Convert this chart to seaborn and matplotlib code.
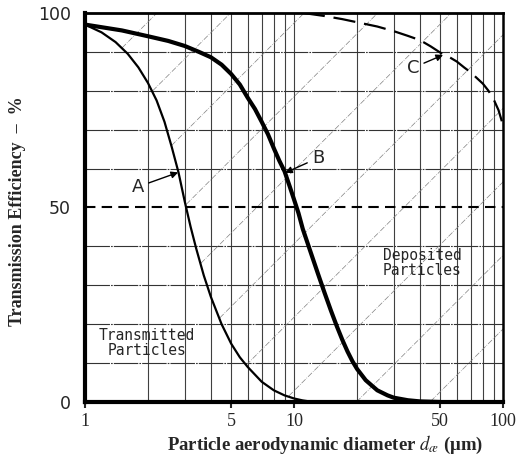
import numpy as np
import pandas as pd
import seaborn as sns
import matplotlib.pyplot as plt
from matplotlib.ticker import NullLocator

# --- values ---
# curve A (thin solid)
a_size = [1.0, 1.2, 1.4, 1.6, 1.8, 2.0, 2.2, 2.4, 2.6, 2.8, 3.0, 3.2, 3.4,
          3.7, 4.0, 4.5, 5.0, 5.5, 6.0, 7.0, 8.0, 9.0, 10.0, 11.0, 12.0, 13.0]
a_eff = [97, 95, 92.5, 89.5, 86, 82, 77.5, 72, 65.5, 59, 51.5, 45, 39.5,
         32.5, 27, 20, 15, 11.5, 9, 5.2, 3, 1.7, 0.9, 0.4, 0.1, 0]

# curve B (thick solid)
b_size = [1, 1.5, 2, 2.5, 3, 3.5, 4, 4.5, 5, 5.5, 6, 6.5, 7, 7.5, 8, 8.5, 9,
          9.5, 10, 10.5, 11, 12, 13, 14, 15, 16, 17, 18, 19, 20, 22, 25, 28,
          30, 35, 40, 50]
b_eff = [97, 95.5, 94, 92.8, 91.5, 90, 88.6, 86.7, 84.3, 81.6, 78.2, 75.3, 72,
         68.8, 65.2, 62, 59.3, 55.6, 52, 48.5, 44.5, 38.5, 33, 28, 23.5, 19.5,
         16, 13, 10.5, 8.5, 5.6, 3, 1.7, 1.1, 0.45, 0.15, 0]

# curve C (dashed)
c_size = [11, 14, 17, 20, 25, 30, 35, 40, 45, 50, 55, 60, 65, 70, 75, 80,
          85, 90, 95, 100]
c_eff = [100, 99.2, 98.4, 97.6, 96.5, 95.3, 94.1, 93, 91.4, 89.8, 88.7, 87.5,
         86, 84.7, 83.2, 81.8, 80, 77.8, 75, 71]

x_ticks = [1, 5, 10, 50, 100]
y_ticks = [0, 50, 100]
grid_x = [2, 3, 4, 5, 6, 7, 8, 9, 10, 20, 30, 40, 50, 60, 70, 80, 90]
grid_y = [10, 20, 30, 40, 60, 70, 80, 90]

# background hatch lines of the chart paper (value at d=1, slope per decade)
diag_start = [81.5, 62.6, 43.7, 24.8, 5.9, -13.0, -31.9, -50.8, -69.7, -88.6, -107.5]
diag_slope = 53.7

sns.set_style("white")
plt.rcParams["font.family"] = ["DejaVu Sans"]
plt.rcParams["mathtext.fontset"] = "stix"

fig = plt.figure(figsize=(5.28, 4.61), dpi=100)
ax = fig.add_axes([0.161, 0.128, 0.792, 0.844])
ax.set_xscale("log")
ax.set_xlim(1, 100)
ax.set_ylim(0, 100)

# chart paper grid
for gx in grid_x:
    ax.axvline(gx, color="0.25", lw=0.8, zorder=1)
for gy in grid_y:
    ax.axhline(gy, color="0.2", lw=0.8, ls=(0, (22, 1, 1.5, 1)), zorder=1)
ax.axhline(50, color="black", lw=1.5, ls=(0, (5, 3)), zorder=2)

# hatch lines only to the right of curve A
xs = np.logspace(0, 2, 600)
a_on_xs = np.interp(np.log10(xs), np.log10(a_size), a_eff, right=0)
for d0 in diag_start:
    yy = d0 + diag_slope * np.log10(xs)
    yy = np.where(yy >= a_on_xs, yy, np.nan)
    ax.plot(xs, yy, color="0.5", lw=0.5, ls=(0, (8, 2, 1, 2)), zorder=1)

# curves
df_a = pd.DataFrame({"size": a_size, "eff": a_eff})
df_b = pd.DataFrame({"size": b_size, "eff": b_eff})
df_c = pd.DataFrame({"size": c_size, "eff": c_eff})
sns.lineplot(data=df_a, x="size", y="eff", ax=ax, color="black", lw=1.6, zorder=3)
sns.lineplot(data=df_b, x="size", y="eff", ax=ax, color="black", lw=3.0, zorder=3)
sns.lineplot(data=df_c, x="size", y="eff", ax=ax, color="black", lw=1.6,
             ls=(0, (10, 4)), zorder=3)

# labels with arrows
arrow = dict(arrowstyle="-|>", color="black", lw=1.0, mutation_scale=10,
             shrinkA=1, shrinkB=0)
ax.annotate("A", xy=(2.79, 59.0), xytext=(1.79, 55.3), fontsize=13,
            ha="center", va="center", arrowprops=arrow, zorder=4)
ax.annotate("B", xy=(9.06, 58.9), xytext=(13.0, 62.7), fontsize=13,
            ha="center", va="center", arrowprops=arrow, zorder=4)
ax.annotate("C", xy=(51.6, 89.2), xytext=(37.1, 85.9), fontsize=13,
            ha="center", va="center", arrowprops=arrow, zorder=4)

ax.text(40.9, 35.7, "Deposited\nParticles", fontsize=10.5, family="DejaVu Sans Mono",
        ha="center", va="center", linespacing=1.0, zorder=4)
ax.text(1.98, 15.2, "Transmitted\nParticles", fontsize=10.5, family="DejaVu Sans Mono",
        ha="center", va="center", linespacing=1.0, zorder=4)

# axes styling
for side, w in [("left", 3.0), ("bottom", 3.0), ("top", 2.0), ("right", 1.8)]:
    ax.spines[side].set_visible(True)
    ax.spines[side].set_color("black")
    ax.spines[side].set_linewidth(w)

ax.xaxis.set_minor_locator(NullLocator())
ax.set_xticks(x_ticks)
ax.set_xticklabels([str(t) for t in x_ticks], family="Liberation Serif", fontsize=13)
ax.set_yticks(y_ticks)
ax.set_yticklabels([str(t) for t in y_ticks], fontsize=12.5)
ax.tick_params(axis="x", direction="out", length=4, width=1.5, pad=4, bottom=True)
ax.tick_params(axis="y", length=0, pad=10)

ax.set_xlabel(r"Particle aerodynamic diameter $\boldsymbol{d_{æ}}$ (μm)",
              family="Liberation Serif", fontweight="bold", fontsize=13.5)
ax.set_ylabel("Transmission Efficiency  –  %", family="Liberation Serif",
              fontweight="bold", fontsize=13)
ax.xaxis.set_label_coords(0.574, -0.083)
ax.yaxis.set_label_coords(-0.142, 0.49)

fig.savefig("out.png", dpi=100)
